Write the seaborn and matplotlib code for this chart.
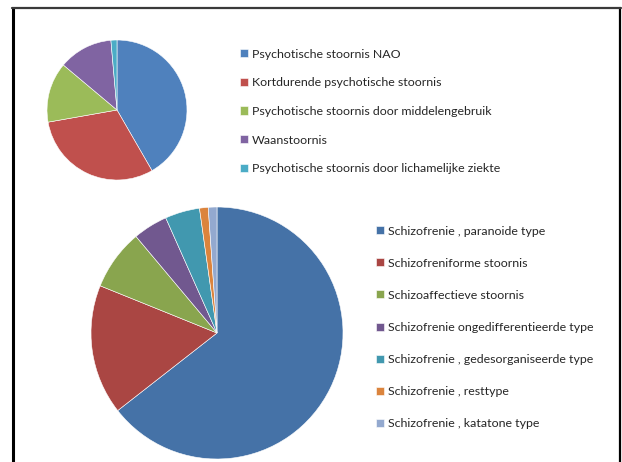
import matplotlib
matplotlib.use("Agg")
import matplotlib.pyplot as plt
from matplotlib.lines import Line2D
import seaborn as sns

# Psychotic disorders (other than schizophrenia spectrum)
psych_labels = [
    "Psychotische stoornis NAO",
    "Kortdurende psychotische stoornis",
    "Psychotische stoornis door middelengebruik",
    "Waanstoornis",
    "Psychotische stoornis door lichamelijke ziekte",
]
psych_counts = [30, 22, 10, 9, 1]
psych_colors = ["#4F81BD", "#C0504D", "#9BBB59", "#8064A2", "#4BACC6"]

# Schizophrenia spectrum
schizo_labels = [
    "Schizofrenie , paranoide type",
    "Schizofreniforme stoornis",
    "Schizoaffectieve stoornis",
    "Schizofrenie ongedifferentieerde type",
    "Schizofrenie , gedesorganiseerde type",
    "Schizofrenie , resttype",
    "Schizofrenie , katatone type",
]
schizo_counts = [58, 15, 7, 4, 4, 1, 1]
schizo_colors = ["#4572A7", "#AA4643", "#89A54E", "#71588F", "#4198AF", "#DB843D", "#93A9CF"]

sns.set_theme(style="white")
plt.rcParams["font.family"] = ["Lato", "DejaVu Sans"]

W, H = 622, 462
fig = plt.figure(figsize=(W / 100, H / 100), dpi=100)
fig.patch.set_facecolor("white")


def px_axes(cx, cy, r):
    """Axes square of radius r (pixels) centred at (cx, cy) measured from top-left."""
    return fig.add_axes([(cx - r) / W, (H - cy - r) / H, 2 * r / W, 2 * r / H])


def draw_pie(ax, counts, colors):
    wedges, _ = ax.pie(
        counts,
        colors=sns.color_palette(colors),
        startangle=90,
        counterclock=False,
        radius=1.0,
        wedgeprops=dict(edgecolor="white", linewidth=0.4),
    )
    ax.set_xlim(-1, 1)
    ax.set_ylim(-1, 1)
    ax.set_aspect("equal")
    ax.axis("off")
    return wedges


ax1 = px_axes(117, 110, 70)
w1 = draw_pie(ax1, psych_counts, psych_colors)

ax2 = px_axes(217, 333, 126)
w2 = draw_pie(ax2, schizo_counts, schizo_colors)

leg_kw = dict(
    frameon=False,
    fontsize=8.9,
    handlelength=0.62,
    handleheight=0.62,
    handletextpad=0.35,
    borderpad=0,
    borderaxespad=0,
    loc="upper left",
)
fig.legend(w1, psych_labels, bbox_to_anchor=(240 / W, 1 - 48.5 / H),
           labelspacing=1.43, **leg_kw)
fig.legend(w2, schizo_labels, bbox_to_anchor=(376 / W, 1 - 225.5 / H),
           labelspacing=1.71, **leg_kw)

# Chart frame
fig.add_artist(Line2D([12.5 / W, 12.5 / W], [0, 1 - 8 / H], color="black", lw=2.2,
                      transform=fig.transFigure))
fig.add_artist(Line2D([619.5 / W, 619.5 / W], [0, 1 - 8 / H], color="black", lw=1.6,
                      transform=fig.transFigure))
fig.add_artist(Line2D([11.5 / W, 620.5 / W], [1 - 8 / H, 1 - 8 / H], color="#3a3a3a", lw=1.6,
                      transform=fig.transFigure))

fig.savefig("out.png", dpi=100, facecolor="white")
